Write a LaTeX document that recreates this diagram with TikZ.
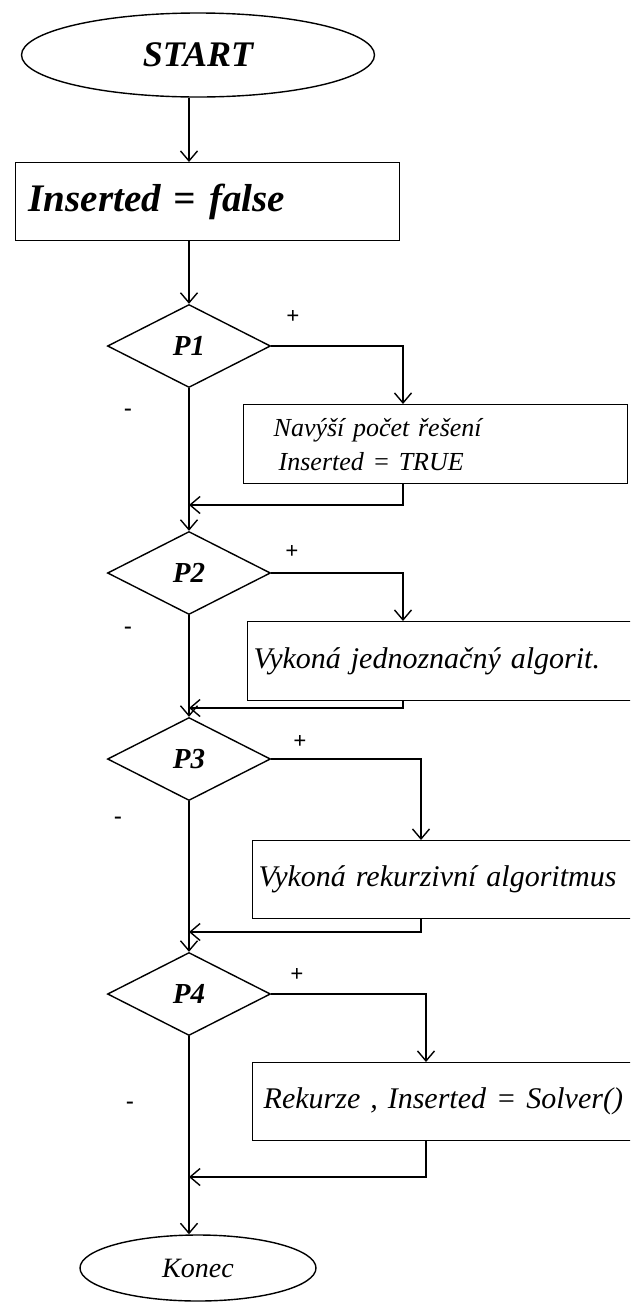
\documentclass[tikz,border=0pt]{standalone}
\usepackage{fontspec}
\setmainfont{Liberation Serif}
\usepackage{tikz}
\usetikzlibrary{arrows.meta}
\usetikzlibrary{shapes.geometric}
\tikzset{>={Straight Barb[length=10pt,width=17pt]}}

\begin{document}
\begin{tikzpicture}[x=1pt,y=-1pt,line width=1.4pt,
	terminal/.style={draw,ellipse,inner sep=0pt},
	decision/.style={draw,diamond,inner sep=0pt,minimum width=163pt,minimum height=83pt,font=\fontsize{29}{34}\selectfont\bfseries\itshape},
	process/.style={draw,rectangle,anchor=north west,align=left,font=\fontsize{30}{36}\selectfont\itshape},
	sign/.style={font=\fontsize{23}{27}\selectfont\bfseries}]
	\useasboundingbox (0,0) rectangle (630,1302);
	\clip (0,0) rectangle (630,1302);
	\node[terminal,minimum width=353pt,minimum height=84pt,font=\fontsize{36}{42}\selectfont\bfseries\itshape] (start) at (198,55) {START};
	\node[process,minimum height=78pt,inner xsep=13pt,text width=358pt,font=\fontsize{39}{46}\selectfont\bfseries\itshape] (inserted) at (15,162) {Inserted = false};
	\node[decision] (p1) at (189,346) {P1};
	\node[process,minimum height=79pt,inner xsep=30pt,text width=324pt,font=\fontsize{26}{34}\selectfont\itshape] (navysi) at (243,404) {Navýší počet řešení\\\hspace*{5pt}Inserted = TRUE};
	\node[decision] (p2) at (189,573) {P2};
	\node[process,minimum height=79pt,inner xsep=6pt,text width=391pt] (jednoznacny) at (247,621) {Vykoná jednoznačný algorit.};
	\node[decision] (p3) at (189,759) {P3};
	\node[process,minimum height=78pt,inner xsep=6pt,text width=400pt] (rekurzivni) at (252,840) {Vykoná rekurzivní algoritmus};
	\node[decision] (p4) at (189,994) {P4};
	\node[process,minimum height=78pt,inner xsep=11pt,text width=390pt] (rekurze) at (252,1062) {Rekurze , Inserted = Solver()};
	\node[terminal,minimum width=236pt,minimum height=66pt,font=\fontsize{28}{34}\selectfont\itshape] (konec) at (198,1268) {Konec};
	\coordinate (j1) at (189,505);
	\coordinate (j2) at (189,708);
	\coordinate (j3) at (189,932);
	\coordinate (j4) at (189,1177);
	\node[sign] (plus1) at (293,317) {+};
	\node[sign] (minus1) at (128,412) {-};
	\node[sign] (plus2) at (292,552) {+};
	\node[sign] (minus2) at (128,630) {-};
	\node[sign] (plus3) at (300,742) {+};
	\node[sign] (minus3) at (118,820) {-};
	\node[sign] (plus4) at (297,975) {+};
	\node[sign] (minus4) at (130,1105) {-};
	\draw[->] (p1.north |- start.south) -- (p1.north |- inserted.north);
	\draw[->] (p1.north |- inserted.south) -- (p1.north);
	\draw[->] (p1.east) -| ([xshift=160pt]navysi.north west);
	\draw[->] ([xshift=160pt]navysi.south west) |- (j1);
	\draw[->] (p1.south) -- (p2.north);
	\draw[->] (p2.east) -| ([xshift=156pt]jednoznacny.north west);
	\draw[->] ([xshift=156pt]jednoznacny.south west) |- (j2);
	\draw[->] (p2.south) -- (p3.north);
	\draw[->] (p3.east) -| ([xshift=169pt]rekurzivni.north west);
	\draw[->] ([xshift=169pt]rekurzivni.south west) |- (j3);
	\draw[->] (p3.south) -- (p4.north);
	\draw[->] (p4.east) -| ([xshift=174pt]rekurze.north west);
	\draw[->] ([xshift=174pt]rekurze.south west) |- (j4);
	\draw[->] (p4.south) -- (p4.south |- konec.north);
\end{tikzpicture}
\end{document}
